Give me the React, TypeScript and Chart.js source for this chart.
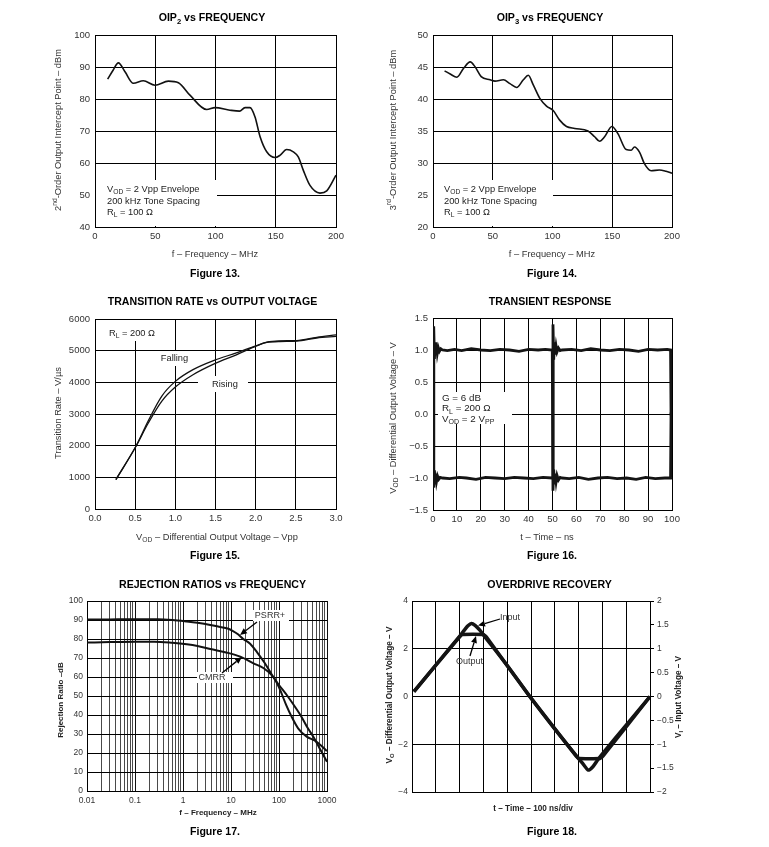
import React, { useEffect, useRef } from 'react';
import { Chart, registerables } from 'chart.js';

Chart.register(...registerables);

const W = 769;
const H = 847;
const FONT = "'Liberation Sans', Arial, Helvetica, sans-serif";

// ---------- Figure 13: OIP2 vs frequency ----------
const oip2Freq = [10.5, 15, 19.4, 24.9, 31.8, 40.1, 49.8, 60.9, 69.2, 78.8, 92.7, 99.6, 112, 120, 124.5, 128.6, 132.8, 137, 142.5, 149.4, 153.5, 159, 164.6, 168.7, 172.9, 178.4, 186.7, 192.3, 200];
const oip2Dbm = [86.2, 89.0, 91.3, 88.5, 84.9, 85.7, 84.3, 85.6, 85.1, 81.2, 76.7, 77.3, 76.5, 76.2, 77.3, 77.3, 74.4, 68.2, 63.5, 61.7, 62.4, 64.2, 63.5, 61.9, 57.7, 53.0, 50.6, 51.3, 56.2];
const oip2XTicks = [0, 50, 100, 150, 200];
const oip2YTicks = [40, 50, 60, 70, 80, 90, 100];

// ---------- Figure 14: OIP3 vs frequency ----------
const oip3Freq = [9.7, 14.4, 20, 25.6, 31.1, 35.3, 40.3, 47.8, 51.9, 58.9, 64.4, 70, 75.6, 79.7, 83.9, 89.4, 95, 100.6, 106, 111.7, 118.6, 129.7, 135.3, 139.4, 143.6, 149.7, 154.7, 161.7, 165.8, 168.6, 172.8, 176.9, 182.5, 189.4, 195, 200];
const oip3Dbm = [44.4, 43.9, 43.4, 44.8, 45.8, 45.0, 43.5, 43.0, 42.8, 43.0, 42.4, 41.8, 43.0, 43.7, 42.2, 40.1, 38.9, 38.2, 36.7, 35.7, 35.4, 35.0, 34.1, 33.4, 34.1, 35.7, 34.6, 32.1, 32.0, 32.5, 31.7, 29.9, 28.8, 28.9, 28.7, 28.4];
const oip3XTicks = [0, 50, 100, 150, 200];
const oip3YTicks = [20, 25, 30, 35, 40, 45, 50];

// ---------- Figure 15: transition rate vs output voltage ----------
const trVod = [0.26, 0.51, 0.66, 0.83, 1.0, 1.22, 1.49, 1.76, 2.01, 2.14, 2.30, 2.51, 2.76, 3.0];
const trFalling = [930, 1980, 2770, 3560, 4030, 4400, 4700, 4930, 5160, 5260, 5290, 5300, 5400, 5450];
const trRising = [930, 1980, 2700, 3400, 3850, 4240, 4590, 4870, 5150, 5270, 5310, 5320, 5420, 5500];
const trXTicks = [0, 0.5, 1.0, 1.5, 2.0, 2.5, 3.0];
const trYTicks = [0, 1000, 2000, 3000, 4000, 5000, 6000];

// ---------- Figure 16: transient response ----------
const trA_t = [0, 0.3, 0.6, 0.9, 1.2, 1.5, 1.8, 2.2, 2.7, 3.3, 4.0, 6, 9, 12, 16, 20, 24, 28, 32, 36, 40, 44, 47, 49.9, 50.2, 50.5, 50.8, 51.1, 51.5, 51.9, 52.5, 53.2, 54, 57, 61, 65, 69, 73, 77, 81, 85, 89, 93, 97, 99.4, 99.6, 100];
const trA_v = [-1.0, 1.37, 0.86, 1.12, 0.92, 1.07, 0.95, 1.04, 0.98, 1.02, 1.0, 0.99, 1.01, 0.99, 1.02, 1.0, 0.99, 1.01, 1.0, 0.98, 1.01, 1.0, 1.01, 1.0, -1.2, -0.87, -1.1, -0.93, -1.06, -0.96, -1.03, -0.99, -1.0, -1.01, -0.99, -1.02, -1.0, -0.99, -1.01, -1.0, -1.02, -0.99, -1.01, -1.0, -1.0, 0.0, 0.0];
const trB_t = [0, 0.3, 0.6, 0.9, 1.2, 1.5, 1.9, 2.4, 3.0, 4.0, 7, 11, 14, 18, 22, 26, 30, 34, 38, 42, 46, 49.9, 50.2, 50.5, 50.8, 51.1, 51.5, 51.9, 52.5, 53.2, 54, 58, 62, 66, 70, 74, 78, 82, 86, 90, 94, 98, 99.4, 99.6, 100];
const trB_v = [1.0, -1.15, -0.88, -1.08, -0.93, -1.05, -0.97, -1.02, -0.99, -1.0, -1.01, -0.99, -1.0, -1.02, -0.99, -1.0, -1.01, -0.99, -1.0, -1.01, -0.99, -1.0, 1.4, 0.85, 1.12, 0.93, 1.06, 0.97, 1.03, 0.99, 1.0, 1.01, 0.99, 1.02, 1.0, 0.99, 1.01, 1.0, 0.98, 1.01, 1.0, 1.01, 1.0, 0.0, 0.0];
const tranXTicks = [0, 10, 20, 30, 40, 50, 60, 70, 80, 90, 100];
const tranYTicks = [-1.5, -1.0, -0.5, 0, 0.5, 1.0, 1.5];

// ---------- Figure 17: rejection ratios vs frequency ----------
const psrrFreq = [0.01, 0.03, 0.1, 0.3, 0.6, 1.2, 2, 3.7, 6, 8.5, 11, 14, 18, 25, 35, 50, 76, 100, 150, 200, 295, 400, 519, 700, 1000];
const psrrDb = [90.2, 90.3, 90.4, 90.4, 90.0, 89.2, 88.5, 87.4, 86.3, 85.5, 84.2, 82.5, 80.0, 77.5, 73.0, 67.5, 60.0, 55.8, 50.0, 45.5, 39.0, 33.0, 28.6, 22.5, 15.4];
const cmrrFreq = [0.01, 0.03, 0.1, 0.25, 0.6, 1.2, 2, 3.7, 8.3, 15.6, 29.5, 48, 76, 100, 140, 184, 250, 377, 562, 750, 1000];
const cmrrDb = [78.1, 78.4, 78.6, 78.6, 78.0, 77.2, 76.3, 74.7, 72.8, 70.7, 67.2, 64.6, 60.0, 54.5, 45.5, 39.0, 33.0, 28.6, 26.5, 24.0, 21.0];
const rejDecades = [0.01, 0.1, 1, 10, 100, 1000];
const rejDecadeLabels = ['0.01', '0.1', '1', '10', '100', '1000'];
const rejMinorSteps = [2, 3, 4, 5, 6, 7, 8, 9];
const rejYTicks = [0, 10, 20, 30, 40, 50, 60, 70, 80, 90, 100];

// ---------- Figure 18: overdrive recovery ----------
const odInT = [0.08, 1.0, 2.0, 2.2, 2.35, 2.5, 2.65, 2.85, 3.0, 4.0, 4.95, 6.0, 7.0, 7.2, 7.4, 7.6, 7.8, 8.0, 9.0, 10.0];
const odInV = [0.1, 0.66, 1.26, 1.39, 1.48, 1.53, 1.49, 1.39, 1.29, 0.65, 0.0, -0.68, -1.3, -1.42, -1.54, -1.47, -1.33, -1.2, -0.6, 0.0];
const odOutT = [0.08, 2.0, 2.12, 3.0, 3.12, 4.95, 6.9, 7.02, 7.9, 8.02, 10.0];
const odOutV = [0.2, 2.5, 2.6, 2.6, 2.5, 0.0, -2.5, -2.6, -2.6, -2.5, 0.0];
const odXTicks = [0, 1, 2, 3, 4, 5, 6, 7, 8, 9, 10];
const odLeftTicks = [-4, -2, 0, 2, 4];
const odRightTicks = [-2, -1.5, -1, -0.5, 0, 0.5, 1, 1.5, 2];

// ---------- helpers ----------
type Seg = string | { t: string; sub?: boolean; sup?: boolean };
interface TextItem { segs: Seg[]; x: number; y: number; size: number; bold?: boolean; color?: string; align?: 'left' | 'center'; rotate?: boolean; }
interface Box { x: number; y: number; w: number; h: number; }
interface Arrow { x1: number; y1: number; x2: number; y2: number; }
interface Area { l: number; t: number; r: number; b: number; }
interface Decor { texts: TextItem[]; boxes: Box[]; arrows: Arrow[]; }

const neg = (s: string) => s.replace('-', '\u2212');

function pts(xs: number[], ys: number[]) {
  return xs.map((x, i) => ({ x, y: ys[i] }));
}

function fontStr(size: number, bold?: boolean) {
  return `${bold ? 'bold ' : ''}${size}px ${FONT}`;
}

function drawRich(ctx: CanvasRenderingContext2D, it: TextItem) {
  const parts = it.segs.map((s) => (typeof s === 'string' ? { t: s } : s)) as { t: string; sub?: boolean; sup?: boolean }[];
  ctx.save();
  ctx.translate(it.x, it.y);
  if (it.rotate) ctx.rotate(-Math.PI / 2);
  ctx.fillStyle = it.color || '#222';
  ctx.textBaseline = 'middle';
  ctx.textAlign = 'left';
  const sizes = parts.map((p) => (p.sub || p.sup ? it.size * 0.72 : it.size));
  let total = 0;
  const widths = parts.map((p, i) => {
    ctx.font = fontStr(sizes[i], it.bold);
    const w = ctx.measureText(p.t).width;
    total += w;
    return w;
  });
  let x = it.align === 'left' ? 0 : -total / 2;
  parts.forEach((p, i) => {
    ctx.font = fontStr(sizes[i], it.bold);
    const dy = p.sub ? it.size * 0.32 : p.sup ? -it.size * 0.36 : 0;
    ctx.fillText(p.t, x, dy);
    x += widths[i];
  });
  ctx.restore();
}

function drawArrow(ctx: CanvasRenderingContext2D, a: Arrow) {
  const ang = Math.atan2(a.y2 - a.y1, a.x2 - a.x1);
  const hl = 7;
  const hw = 3;
  const bx = a.x2 - hl * Math.cos(ang);
  const by = a.y2 - hl * Math.sin(ang);
  ctx.save();
  ctx.strokeStyle = '#000';
  ctx.fillStyle = '#000';
  ctx.lineWidth = 1.3;
  ctx.beginPath();
  ctx.moveTo(a.x1, a.y1);
  ctx.lineTo(bx, by);
  ctx.stroke();
  ctx.beginPath();
  ctx.moveTo(a.x2, a.y2);
  ctx.lineTo(bx + hw * Math.sin(ang), by - hw * Math.cos(ang));
  ctx.lineTo(bx - hw * Math.sin(ang), by + hw * Math.cos(ang));
  ctx.closePath();
  ctx.fill();
  ctx.restore();
}

function decorPlugin(d: Decor) {
  return {
    id: 'decor',
    beforeDatasetsDraw(chart: any) {
      const ctx = chart.ctx as CanvasRenderingContext2D;
      ctx.save();
      ctx.fillStyle = '#fff';
      d.boxes.forEach((b) => ctx.fillRect(b.x, b.y, b.w, b.h));
      ctx.restore();
    },
    afterDraw(chart: any) {
      const ctx = chart.ctx as CanvasRenderingContext2D;
      d.arrows.forEach((a) => drawArrow(ctx, a));
      d.texts.forEach((t) => drawRich(ctx, t));
    },
  };
}

interface AxisOpt {
  ticks: number[];
  min: number;
  max: number;
  fmt?: (v: number) => string;
  size?: number;
  labels?: boolean;
  type?: string;
  gridColor?: any;
  padding?: number;
}

function xAxis(area: Area, o: AxisOpt) {
  return {
    type: o.type || 'linear',
    position: 'bottom',
    min: o.min,
    max: o.max,
    afterFit: (s: any) => { s.height = H - area.b; },
    afterBuildTicks: (s: any) => { s.ticks = o.ticks.map((v) => ({ value: v })); },
    grid: { color: o.gridColor || '#000', lineWidth: 1, drawTicks: false },
    border: { display: true, color: '#000', width: 1 },
    ticks: {
      display: o.labels !== false,
      autoSkip: false,
      maxRotation: 0,
      minRotation: 0,
      padding: o.padding ?? 4,
      color: '#333',
      font: { family: FONT, size: o.size || 9.5 },
      callback: (v: any) => (o.fmt ? o.fmt(Number(v)) : String(v)),
    },
  };
}

function yAxis(area: Area, o: AxisOpt, right = false) {
  return {
    type: 'linear',
    position: right ? 'right' : 'left',
    min: o.min,
    max: o.max,
    afterFit: (s: any) => { s.width = right ? W - area.r : area.l; },
    afterBuildTicks: (s: any) => { s.ticks = o.ticks.map((v) => ({ value: v })); },
    grid: right
      ? { display: true, drawOnChartArea: false, drawTicks: true, tickLength: 4, color: '#000', lineWidth: 1 }
      : { color: o.gridColor || '#000', lineWidth: 1, drawTicks: false },
    border: { display: true, color: '#000', width: 1 },
    ticks: {
      autoSkip: false,
      padding: o.padding ?? 5,
      color: '#333',
      font: { family: FONT, size: o.size || 9.5 },
      callback: (v: any) => (o.fmt ? o.fmt(Number(v)) : String(v)),
    },
  };
}

function lineDs(data: any[], width: number, extra: any = {}) {
  return {
    data,
    borderColor: '#111',
    backgroundColor: '#111',
    borderWidth: width,
    pointRadius: 0,
    fill: false,
    cubicInterpolationMode: 'monotone',
    ...extra,
  };
}

function makeConfig(area: Area, datasets: any[], scales: any, decor: Decor, rightAxis = false) {
  return {
    type: 'line',
    data: { datasets },
    options: {
      responsive: false,
      maintainAspectRatio: false,
      animation: false,
      parsing: true,
      layout: { padding: { left: 0, top: area.t, right: rightAxis ? 0 : W - area.r, bottom: 0 } },
      plugins: { legend: { display: false }, tooltip: { enabled: false }, title: { display: false } },
      scales,
    },
    plugins: [decorPlugin(decor)],
  } as any;
}

const TITLE = 10.6;
const AX = 9.3;

function titleText(segs: Seg[], x: number, y: number): TextItem {
  return { segs, x, y, size: TITLE, bold: true, color: '#000' };
}

// ---------- chart configs ----------
function cfgOip2() {
  const a: Area = { l: 95, t: 35, r: 336, b: 227 };
  return makeConfig(a, [lineDs(pts(oip2Freq, oip2Dbm), 1.6)], {
    x: xAxis(a, { ticks: oip2XTicks, min: 0, max: 200 }),
    y: yAxis(a, { ticks: oip2YTicks, min: 40, max: 100 }),
  }, {
    boxes: [{ x: 96, y: 180, w: 121, h: 46 }],
    arrows: [],
    texts: [
      titleText(['OIP', { t: '2', sub: true }, ' vs FREQUENCY'], 212, 18),
      titleText(['Figure 13.'], 215, 274),
      { segs: ['f \u2013 Frequency \u2013 MHz'], x: 215, y: 254, size: AX, color: '#333' },
      { segs: ['2', { t: 'nd', sup: true }, '-Order Output Intercept Point \u2013 dBm'], x: 58.5, y: 130, size: AX, color: '#333', rotate: true },
      { segs: ['V', { t: 'OD', sub: true }, ' = 2 Vpp Envelope'], x: 107, y: 189, size: AX, align: 'left' },
      { segs: ['200 kHz Tone Spacing'], x: 107, y: 201, size: AX, align: 'left' },
      { segs: ['R', { t: 'L', sub: true }, ' = 100 \u03A9'], x: 107, y: 212, size: AX, align: 'left' },
    ],
  });
}

function cfgOip3() {
  const a: Area = { l: 433, t: 35, r: 672, b: 227 };
  return makeConfig(a, [lineDs(pts(oip3Freq, oip3Dbm), 1.6)], {
    x: xAxis(a, { ticks: oip3XTicks, min: 0, max: 200 }),
    y: yAxis(a, { ticks: oip3YTicks, min: 20, max: 50 }),
  }, {
    boxes: [{ x: 434, y: 180, w: 119, h: 46 }],
    arrows: [],
    texts: [
      titleText(['OIP', { t: '3', sub: true }, ' vs FREQUENCY'], 550, 18),
      titleText(['Figure 14.'], 552, 274),
      { segs: ['f \u2013 Frequency \u2013 MHz'], x: 552, y: 254, size: AX, color: '#333' },
      { segs: ['3', { t: 'rd', sup: true }, '-Order Output Intercept Point \u2013 dBm'], x: 393, y: 130, size: AX, color: '#333', rotate: true },
      { segs: ['V', { t: 'OD', sub: true }, ' = 2 Vpp Envelope'], x: 444, y: 189, size: AX, align: 'left' },
      { segs: ['200 kHz Tone Spacing'], x: 444, y: 201, size: AX, align: 'left' },
      { segs: ['R', { t: 'L', sub: true }, ' = 100 \u03A9'], x: 444, y: 212, size: AX, align: 'left' },
    ],
  });
}

function cfgTrans() {
  const a: Area = { l: 95, t: 319, r: 336, b: 509 };
  return makeConfig(a, [
    lineDs(pts(trVod, trFalling), 1.3),
    lineDs(pts(trVod, trRising), 1.3),
  ], {
    x: xAxis(a, { ticks: trXTicks, min: 0, max: 3, fmt: (v) => v.toFixed(1) }),
    y: yAxis(a, { ticks: trYTicks, min: 0, max: 6000 }),
  }, {
    boxes: [
      { x: 104, y: 320, w: 56, h: 21 },
      { x: 155, y: 351, w: 43, h: 15 },
      { x: 198, y: 376, w: 50, h: 16 },
    ],
    arrows: [],
    texts: [
      titleText(['TRANSITION RATE vs OUTPUT VOLTAGE'], 212.5, 302.5),
      titleText(['Figure 15.'], 215, 556.5),
      { segs: ['V', { t: 'OD', sub: true }, ' \u2013 Differential Output Voltage \u2013 Vpp'], x: 217, y: 537, size: AX, color: '#333' },
      { segs: ['Transition Rate \u2013 V/\u00B5s'], x: 58.5, y: 413, size: AX, color: '#333', rotate: true },
      { segs: ['R', { t: 'L', sub: true }, ' = 200 \u03A9'], x: 109, y: 333, size: AX, align: 'left' },
      { segs: ['Falling'], x: 174.5, y: 358, size: AX },
      { segs: ['Rising'], x: 225, y: 384, size: AX },
    ],
  });
}

function cfgTransient() {
  const a: Area = { l: 433, t: 318, r: 672, b: 510 };
  const ds = { cubicInterpolationMode: 'default', tension: 0, borderColor: '#141414' };
  return makeConfig(a, [
    lineDs(pts(trA_t, trA_v), 2.8, ds),
    lineDs(pts(trB_t, trB_v), 2.8, ds),
  ], {
    x: xAxis(a, { ticks: tranXTicks, min: 0, max: 100 }),
    y: yAxis(a, { ticks: tranYTicks, min: -1.5, max: 1.5, fmt: (v) => neg(v.toFixed(1)) }),
  }, {
    boxes: [{ x: 438, y: 392, w: 74, h: 32 }],
    arrows: [],
    texts: [
      titleText(['TRANSIENT RESPONSE'], 550, 302.5),
      titleText(['Figure 16.'], 552, 556.5),
      { segs: ['t \u2013 Time \u2013 ns'], x: 547, y: 537, size: AX, color: '#333' },
      { segs: ['V', { t: 'OD', sub: true }, ' \u2013 Differential Output Voltage \u2013 V'], x: 393, y: 418, size: AX, color: '#333', rotate: true },
      { segs: ['G = 6 dB'], x: 442, y: 398, size: 9.8, align: 'left' },
      { segs: ['R', { t: 'L', sub: true }, ' = 200 \u03A9'], x: 442, y: 408.5, size: 9.8, align: 'left' },
      { segs: ['V', { t: 'OD', sub: true }, ' = 2 V', { t: 'PP', sub: true }], x: 442, y: 419, size: 9.8, align: 'left' },
    ],
  });
}

function cfgReject() {
  const a: Area = { l: 87, t: 601, r: 327, b: 791 };
  const logTicks: number[] = [];
  rejDecades.forEach((d, i) => {
    logTicks.push(d);
    if (i < rejDecades.length - 1) rejMinorSteps.forEach((m) => logTicks.push(d * m));
  });
  const isDecade = (v: number) => rejDecades.some((d) => Math.abs(d - v) / d < 1e-6);
  const label = (v: number) => {
    const i = rejDecades.findIndex((d) => Math.abs(d - v) / d < 1e-6);
    return i >= 0 ? rejDecadeLabels[i] : '';
  };
  return makeConfig(a, [
    lineDs(pts(psrrFreq, psrrDb), 2),
    lineDs(pts(cmrrFreq, cmrrDb), 2),
  ], {
    x: xAxis(a, {
      type: 'logarithmic', ticks: logTicks, min: 0.01, max: 1000, fmt: label, size: 8.5, padding: 5,
      gridColor: (c: any) => (c.tick && isDecade(c.tick.value) ? '#111' : '#4a4a4a'),
    }),
    y: yAxis(a, { ticks: rejYTicks, min: 0, max: 100, size: 8.5, padding: 4 }),
  }, {
    boxes: [
      { x: 253, y: 610, w: 36, h: 11 },
      { x: 197, y: 672, w: 36, h: 11 },
    ],
    arrows: [
      { x1: 257, y1: 622, x2: 240, y2: 635 },
      { x1: 222, y1: 673, x2: 242, y2: 657 },
    ],
    texts: [
      titleText(['REJECTION RATIOS vs FREQUENCY'], 212.5, 585),
      titleText(['Figure 17.'], 215, 832),
      { segs: ['f \u2013 Frequency \u2013 MHz'], x: 218, y: 813, size: 8, bold: true, color: '#222' },
      { segs: ['Rejection Ratio \u2013dB'], x: 60.5, y: 700, size: 8, bold: true, color: '#222', rotate: true },
      { segs: ['PSRR+'], x: 270, y: 615.5, size: 9, color: '#333' },
      { segs: ['CMRR'], x: 212, y: 677.5, size: 9, color: '#333' },
    ],
  });
}

function cfgOverdrive() {
  const a: Area = { l: 412, t: 601, r: 650, b: 792 };
  const ds = { cubicInterpolationMode: 'default', tension: 0.25, borderColor: '#141414' };
  const fmtR = (v: number) => neg(String(v));
  return makeConfig(a, [
    lineDs(pts(odOutT, odOutV), 3.5, { ...ds, yAxisID: 'y', tension: 0.1 }),
    lineDs(pts(odInT, odInV), 3.5, { ...ds, yAxisID: 'y1' }),
  ], {
    x: xAxis(a, { ticks: odXTicks, min: 0, max: 10, labels: false }),
    y: yAxis(a, { ticks: odLeftTicks, min: -4, max: 4, size: 8.5, padding: 4, fmt: (v) => neg(String(v)) }),
    y1: yAxis(a, { ticks: odRightTicks, min: -2, max: 2, size: 8.5, padding: 3, fmt: fmtR }, true),
  }, {
    boxes: [],
    arrows: [
      { x1: 500, y1: 619, x2: 478, y2: 625.5 },
      { x1: 470, y1: 656, x2: 476, y2: 636 },
    ],
    texts: [
      titleText(['OVERDRIVE RECOVERY'], 549.5, 585),
      titleText(['Figure 18.'], 552, 832),
      { segs: ['t \u2013 Time \u2013 100 ns/div'], x: 533, y: 809, size: 8.2, bold: true, color: '#222' },
      { segs: ['V', { t: 'O', sub: true }, ' \u2013 Differential Output Voltage \u2013 V'], x: 390, y: 695, size: 8.2, bold: true, color: '#222', rotate: true },
      { segs: ['V', { t: 'I', sub: true }, ' \u2013 Input Voltage \u2013 V'], x: 679, y: 697, size: 8.2, bold: true, color: '#222', rotate: true },
      { segs: ['Input'], x: 510, y: 618, size: 9, color: '#333' },
      { segs: ['Output'], x: 469.5, y: 662, size: 9, color: '#333' },
    ],
  }, true);
}

const builders = [cfgOip2, cfgOip3, cfgTrans, cfgTransient, cfgReject, cfgOverdrive];

export default function App() {
  const refs = useRef<(HTMLCanvasElement | null)[]>([]);
  useEffect(() => {
    Chart.defaults.font.family = FONT;
    const charts = builders.map((b, i) => new Chart(refs.current[i] as HTMLCanvasElement, b()));
    return () => charts.forEach((c) => c.destroy());
  }, []);
  return (
    <div style={{ position: 'absolute', left: 0, top: 0, width: W, height: H, background: '#fff', overflow: 'hidden' }}>
      {builders.map((_, i) => (
        <canvas
          key={i}
          ref={(el) => { refs.current[i] = el; }}
          width={W}
          height={H}
          style={{ position: 'absolute', left: 0, top: 0, width: W, height: H }}
        />
      ))}
    </div>
  );
}
